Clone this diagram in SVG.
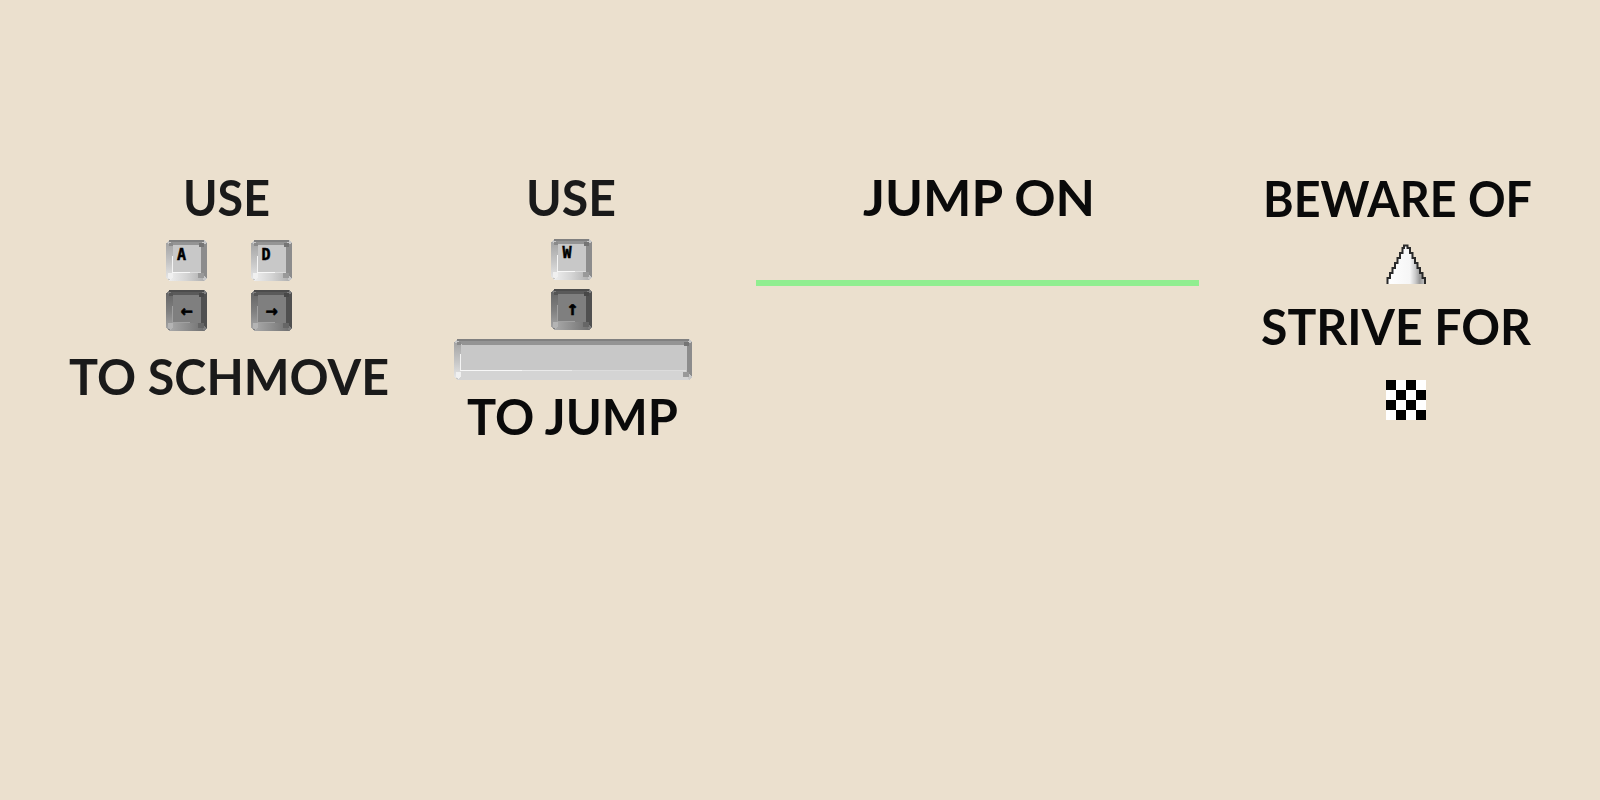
<svg xmlns="http://www.w3.org/2000/svg" width="1600" height="800" viewBox="0 0 1600 800">
<style>
.t{font-family:"Lato","Liberation Sans",sans-serif;font-weight:700;font-size:50px}
.c1{fill:#1a1a1a}.c2{fill:#0a0a0a}
.k{font-family:"DejaVu Sans Mono",monospace;font-weight:700;font-size:15px;text-anchor:middle;fill:#000;stroke:#000;stroke-width:.5px}
.a{font-size:20px}
</style>
<defs>
<linearGradient id="ll" x1="0" x2="0" y1="0" y2="1"><stop offset="0" stop-color="#a4a4a4"/><stop offset="0.5" stop-color="#c4c4c4"/><stop offset="1" stop-color="#e8e8e8"/></linearGradient>
<linearGradient id="dl" x1="0" x2="0" y1="0" y2="1"><stop offset="0" stop-color="#666"/><stop offset="0.5" stop-color="#808080"/><stop offset="1" stop-color="#a8a8a8"/></linearGradient>
<linearGradient id="lb" x1="0" x2="1" y1="0" y2="0"><stop offset="0" stop-color="#eee"/><stop offset="0.5" stop-color="#d4d4d4"/><stop offset="1" stop-color="#b0b0b0"/></linearGradient>
<linearGradient id="db" x1="0" x2="1" y1="0" y2="0"><stop offset="0" stop-color="#aaa"/><stop offset="0.5" stop-color="#8e8e8e"/><stop offset="1" stop-color="#707070"/></linearGradient>
<linearGradient id="sp" x1="0" x2="1" y1="0" y2="0"><stop offset="0" stop-color="#fff"/><stop offset="0.6" stop-color="#f6f6f6"/><stop offset="0.74" stop-color="#ccc"/><stop offset="0.86" stop-color="#999"/><stop offset="1" stop-color="#c4c4c4"/></linearGradient>
<g id="keyL" shape-rendering="crispEdges">
<polygon points="3,0 38,0 41,3 41,38 38,41 3,41 0,38 0,3" fill="#c8c8c8"/>
<polygon points="3,0 38,0 35,5 7,5" fill="#949494"/>
<rect x="3" y="0" width="35" height="2" fill="#808080"/>
<polygon points="0,3 7,5 7,33 2,40 0,38" fill="url(#ll)"/>
<polygon points="41,3 35,5 35,33 41,38" fill="#8c8c8c"/>
<polygon points="3,41 38,41 35,33 7,33" fill="url(#lb)"/>
<rect x="6" y="16" width="1" height="17" fill="#f4f4f4"/>
<rect x="6" y="32" width="18" height="1" fill="#f8f8f8"/>
<rect x="24" y="32" width="11" height="1" fill="#dcdcdc"/>
<polygon points="2,33 7,33 7,37 4,40 2,38" fill="#f0f0f0"/>
<rect x="3" y="3" width="4" height="3" fill="#8a8a8a"/>
<rect x="33" y="3" width="5" height="4" fill="#757575"/>
<rect x="32" y="33" width="6" height="5" fill="#999"/>
</g>
<g id="keyD" shape-rendering="crispEdges">
<polygon points="3,0 38,0 41,3 41,38 38,41 3,41 0,38 0,3" fill="#7f7f7f"/>
<polygon points="3,0 38,0 35,5 7,5" fill="#5a5a5a"/>
<rect x="3" y="0" width="35" height="2" fill="#4c4c4c"/>
<polygon points="0,3 7,5 7,33 2,40 0,38" fill="url(#dl)"/>
<polygon points="41,3 35,5 35,33 41,38" fill="#505050"/>
<polygon points="3,41 38,41 35,33 7,33" fill="url(#db)"/>
<rect x="6" y="16" width="1" height="17" fill="#a0a0a0"/>
<rect x="6" y="32" width="18" height="1" fill="#a0a0a0"/>
<polygon points="2,33 7,33 7,37 4,40 2,38" fill="#b4b4b4"/>
<rect x="3" y="3" width="4" height="3" fill="#555"/>
<rect x="33" y="3" width="5" height="4" fill="#484848"/>
<rect x="32" y="33" width="6" height="5" fill="#666"/>
</g>
</defs>
<rect width="1600" height="800" fill="#ebe0ce"/>

<g id="move-use"><text class="t c1" x="183" y="216" textLength="87" lengthAdjust="spacingAndGlyphs">USE</text></g>
<g id="key-a"><use href="#keyL" x="166" y="240"/><text class="k" x="181.500" y="260">A</text></g>
<g id="key-d"><use href="#keyL" x="251" y="240"/><text class="k" x="266" y="260">D</text></g>
<g id="key-left"><use href="#keyD" x="166" y="290"/><text class="k a" x="186.500" y="317">←</text></g>
<g id="key-right"><use href="#keyD" x="251" y="290"/><text class="k a" x="271.500" y="317">→</text></g>
<g id="move-label"><text class="t c1" x="69" y="395" textLength="320" lengthAdjust="spacingAndGlyphs">TO SCHMOVE</text></g>

<g id="jump-use"><text class="t c1" x="526" y="216" textLength="90" lengthAdjust="spacingAndGlyphs">USE</text></g>
<g id="key-w"><use href="#keyL" x="551" y="239"/><text class="k" x="567" y="258">W</text></g>
<g id="key-up"><use href="#keyD" x="551" y="289"/><text class="k a" x="572.500" y="315">↑</text></g>
<g id="key-space" shape-rendering="crispEdges">
<polygon points="457,339 689,339 692,342 692,377 689,380 457,380 454,377 454,342" fill="#c8c8c8"/>
<polygon points="457,339 689,339 686,345 462,345" fill="#949494"/>
<rect x="457" y="339" width="232" height="2" fill="#808080"/>
<polygon points="454,342 461,345 461,372 456,379 454,377" fill="url(#ll)"/>
<polygon points="692,342 687,345 687,372 692,377" fill="#8c8c8c"/>
<polygon points="457,380 689,380 686,371 461,371" fill="#d4d4d4"/>
<rect x="460" y="354" width="1" height="17" fill="#f4f4f4"/>
<rect x="460" y="370" width="62" height="1" fill="#f8f8f8"/>
<rect x="522" y="370" width="50" height="1" fill="#eaeaea"/>
<rect x="572" y="370" width="114" height="1" fill="#dcdcdc"/>
<polygon points="456,372 461,372 461,376 458,379 456,377" fill="#f0f0f0"/>
<rect x="457" y="342" width="4" height="3" fill="#8a8a8a"/>
<rect x="684" y="342" width="5" height="4" fill="#757575"/>
<rect x="683" y="372" width="6" height="5" fill="#999"/>
</g>
<g id="jump-label"><text class="t c2" x="467" y="435" textLength="211" lengthAdjust="spacingAndGlyphs">TO JUMP</text></g>

<g id="jump-on"><text class="t c2" x="863" y="216" textLength="232" lengthAdjust="spacingAndGlyphs">JUMP ON</text></g>
<g id="platform"><rect x="756" y="280" width="443" height="6" fill="#90ee90"/></g>

<g id="beware"><text class="t c2" x="1263" y="217" textLength="269" lengthAdjust="spacingAndGlyphs">BEWARE OF</text></g>
<g id="spike">
<path d="M1387.500,284V278H1390V273H1392.500V268H1395V263H1397.500V258H1400V253H1402.500V248H1404V245.500H1407.500V248H1410V253H1412.500V258H1415V263H1417.500V268H1420V273H1422.500V278H1425V284Z" fill="url(#sp)"/>
<path d="M1387.500,284V278H1390V273H1392.500V268H1395V263H1397.500V258H1400V253H1402.500V248H1404V245.500H1407.500V248H1410V253H1412.500V258H1415V263H1417.500V268H1420V273H1422.500V278H1425V284" fill="none" stroke="#2a2a2a" stroke-width="2"/>
</g>
<g id="strive"><text class="t c2" x="1261" y="345" textLength="270" lengthAdjust="spacingAndGlyphs">STRIVE FOR</text></g>
<g id="goal" shape-rendering="crispEdges">
<rect x="1386" y="380" width="40" height="40" fill="#fff"/>
<path d="M1386,380h10v10h-10zM1406,380h10v10h-10zM1396,390h10v10h-10zM1416,390h10v10h-10zM1386,400h10v10h-10zM1406,400h10v10h-10zM1396,410h10v10h-10zM1416,410h10v10h-10z" fill="#000"/>
</g>
</svg>
